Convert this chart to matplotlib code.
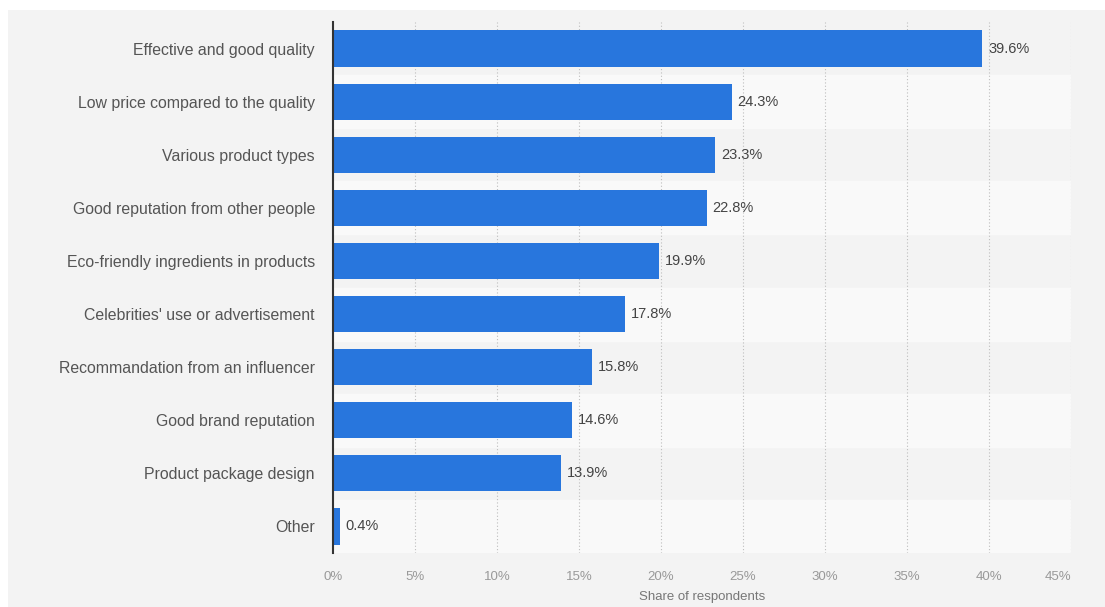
import matplotlib.pyplot as plt
from matplotlib.patches import Rectangle

categories = [
    "Effective and good quality",
    "Low price compared to the quality",
    "Various product types",
    "Good reputation from other people",
    "Eco-friendly ingredients in products",
    "Celebrities' use or advertisement",
    "Recommandation from an influencer",
    "Good brand reputation",
    "Product package design",
    "Other",
]
shares = [39.6, 24.3, 23.3, 22.8, 19.9, 17.8, 15.8, 14.6, 13.9, 0.4]
x_ticks = [0, 5, 10, 15, 20, 25, 30, 35, 40, 45]

plt.rcParams['font.family'] = ['Liberation Sans', 'DejaVu Sans']

fig = plt.figure(figsize=(11.05, 6.07), dpi=100)
fig.patch.set_facecolor('white')
# grey panel behind the chart
fig.patches.append(Rectangle((8 / 1105, 0), 1 - 8 / 1105, 1 - 10 / 607,
                             transform=fig.transFigure, facecolor='#f3f3f3',
                             edgecolor='none', zorder=-10))

ax = fig.add_axes([333 / 1105, 1 - 553 / 607, (1071 - 333) / 1105, (553 - 22) / 607])
ax.set_facecolor('none')

y = list(range(len(categories)))
for i in y:
    if i % 2 == 1:
        ax.axhspan(i - 0.5, i + 0.5, color='#f9f9f9', zorder=0)

bars = ax.barh(y, shares, height=0.68, color='#2876dd', zorder=3)
for yi, v in zip(y, shares):
    ax.text(v + 0.35, yi, f"{v}%", va='center', ha='left', fontsize=10.5,
            color='#444444', zorder=4)

ax.set_ylim(len(categories) - 0.5, -0.5)
ax.set_xlim(0, 45)
ax.set_yticks(y)
ax.set_yticklabels(categories, fontsize=11.4, color='#555555')
ax.set_xticks(x_ticks)
xlabels = ax.set_xticklabels([f"{t}%" for t in x_ticks], fontsize=9.5, color='#999999')
xlabels[-1].set_ha('right')
ax.tick_params(axis='y', length=0, pad=13)
ax.tick_params(axis='x', length=0, pad=13)

for t in x_ticks[1:]:
    ax.axvline(t, color='#bdbdbd', linestyle=(0, (1, 2)), linewidth=0.8, zorder=1)

for s in ['top', 'right', 'bottom']:
    ax.spines[s].set_visible(False)
ax.spines['left'].set_color('#333333')
ax.spines['left'].set_linewidth(1.5)
ax.spines['left'].set_zorder(5)

ax.set_xlabel("Share of respondents", fontsize=9.5, color='#777777', labelpad=6)

fig.savefig('out.png', dpi=100, facecolor=fig.get_facecolor())
